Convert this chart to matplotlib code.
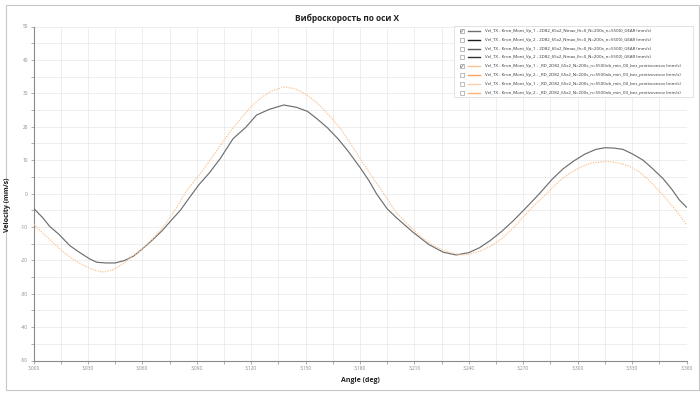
import matplotlib
matplotlib.use("Agg")
import matplotlib.pyplot as plt
from matplotlib.patches import Rectangle
from matplotlib.lines import Line2D
from matplotlib.ticker import MultipleLocator, FuncFormatter

# ---------------- data ----------------
angle_gear = [3000, 3005, 3009, 3014, 3020, 3025, 3031, 3035, 3040, 3045, 3050, 3055,
              3060, 3065, 3071, 3076, 3081, 3086, 3091, 3097, 3103, 3110, 3117, 3123,
              3130, 3138, 3145, 3151, 3156, 3162, 3168, 3173, 3180, 3185, 3189, 3195,
              3200, 3209, 3218, 3226, 3233, 3240, 3246, 3252, 3258, 3265, 3272, 3279,
              3286, 3292, 3298, 3304, 3310, 3315, 3320, 3325, 3330, 3336, 3341, 3347,
              3352, 3356, 3360]
vel_gear = [-4.4, -7.2, -9.9, -12.2, -15.6, -17.5, -19.6, -20.6, -20.8, -20.8, -20.1, -18.8,
            -16.6, -14.2, -11.1, -8.0, -5.0, -1.2, 2.5, 6.2, 10.5, 16.4, 19.8, 23.5,
            25.2, 26.5, 25.8, 24.6, 22.5, 19.7, 16.3, 13.0, 7.8, 3.8, 0.0, -4.6,
            -7.2, -11.5, -15.3, -17.6, -18.4, -17.7, -16.2, -14.0, -11.4, -7.9, -4.0, 0.0,
            4.3, 7.4, 9.8, 11.8, 13.2, 13.7, 13.6, 13.2, 11.9, 10.0, 7.6, 4.5,
            1.2, -1.9, -4.1]

angle_rd = [3000, 3005, 3010, 3016, 3021, 3026, 3031, 3035, 3039, 3044, 3049, 3054,
            3060, 3066, 3072, 3078, 3084, 3092, 3098, 3103, 3109, 3114, 3120, 3125,
            3131, 3138, 3144, 3150, 3156, 3162, 3169, 3175, 3180, 3186, 3193, 3200,
            3207, 3214, 3221, 3228, 3235, 3240, 3246, 3252, 3258, 3264, 3270, 3276,
            3283, 3290, 3296, 3302, 3308, 3316, 3322, 3328, 3334, 3340, 3346, 3351,
            3356, 3360]
vel_rd = [-9.2, -11.8, -14.3, -17.3, -19.4, -21.0, -22.4, -23.2, -23.5, -22.8, -21.2, -19.0,
          -16.6, -13.4, -9.6, -5.0, 0.5, 6.0, 10.5, 14.4, 18.8, 22.3, 26.0, 28.5,
          30.6, 31.9, 31.4, 29.8, 27.3, 24.0, 19.6, 14.8, 10.5, 5.6, 0.0, -5.7,
          -9.6, -13.2, -15.8, -17.4, -18.4, -18.2, -17.3, -15.8, -13.6, -10.6, -7.0, -3.6,
          0.0, 3.8, 6.2, 8.0, 9.2, 9.6, 9.2, 8.3, 6.5, 3.6, 0.2, -3.0,
          -6.3, -9.4]

legend_labels = [
    "Vel_TX - Kron_Mont_Vp_1 - 2D82_65x2_Nmax_(h=0_N=200s_n=5500)_GEAR (mm/s)",
    "Vel_TX - Kron_Mont_Vp_2 - 2D82_65x2_Nmax_(h=0_N=200s_n=5500)_GEAR (mm/s)",
    "Vel_TX - Kron_Mont_Vp_1 - 2D82_65x2_Nmax_(h=0_N=200s_n=5500)_GEAR (mm/s)",
    "Vel_TX - Kron_Mont_Vp_2 - 2D82_65x2_Nmax_(h=0_N=200s_n=5500)_GEAR (mm/s)",
    "Vel_TX - Kron_Mont_Vp_1 - _RD_2D82_65x2_N=200s_n=5500ob_min_00_bez_protivovesov (mm/s)",
    "Vel_TX - Kron_Mont_Vp_2 - _RD_2D82_65x2_N=200s_n=5500ob_min_00_bez_protivovesov (mm/s)",
    "Vel_TX - Kron_Mont_Vp_1 - _RD_2D82_65x2_N=200s_n=5500ob_min_00_bez_protivovesov (mm/s)",
    "Vel_TX - Kron_Mont_Vp_2 - _RD_2D82_65x2_N=200s_n=5500ob_min_00_bez_protivovesov (mm/s)",
]
legend_colors = ["#6e6e6e", "#1e1e1e", "#5a5a5a", "#333333",
                 "#fbc393", "#f5a35e", "#fdcfa6", "#fab27c"]
legend_checked = [True, False, False, False, True, False, False, False]

title = "Виброскорость по оси X"
xlabel = "Angle (deg)"
ylabel = "Velocity (mm/s)"

# ---------------- figure ----------------
W, H = 700, 396
fig = plt.figure(figsize=(7.0, 3.96), dpi=100)
plt.rcParams['font.family'] = ['Open Sans', 'DejaVu Sans']

def fx(px):
    return px / W

def fy(py):
    return 1 - py / H

# outer frame
fig.patches.append(Rectangle((fx(6), fy(390)), fx(699) - fx(6), fy(5) - fy(390),
                             transform=fig.transFigure, fill=False,
                             edgecolor="#c8c8c8", linewidth=0.8))

ax = fig.add_axes([fx(33.5), fy(360.5), fx(686.5) - fx(33.5), fy(26.5) - fy(360.5)])

ax.plot(angle_gear, vel_gear, color=legend_colors[0], linewidth=0.85, zorder=3)
ax.plot(angle_rd, vel_rd, color=legend_colors[4], linewidth=0.9, linestyle=(0, (1.0, 1.0)),
        zorder=3)

ax.set_xlim(3000, 3360)
ax.set_ylim(-50, 50)
ax.xaxis.set_major_locator(MultipleLocator(30))
ax.xaxis.set_minor_locator(MultipleLocator(15))
ax.yaxis.set_major_locator(MultipleLocator(10))
ax.yaxis.set_minor_locator(MultipleLocator(5))
ax.xaxis.set_major_formatter(FuncFormatter(lambda v, p: f"{int(round(v)):,}"))
ax.yaxis.set_major_formatter(FuncFormatter(lambda v, p: f"{int(round(v))}"))

ax.grid(which="both", color="#ebebeb", linewidth=0.6, zorder=0)
ax.set_axisbelow(True)
for s in ["top", "right"]:
    ax.spines[s].set_visible(False)
for s in ["left", "bottom"]:
    ax.spines[s].set_color("#8a8a8a")
    ax.spines[s].set_linewidth(0.8)

ax.tick_params(which="both", labelsize=3.4, labelcolor="#888888", color="#8a8a8a",
               width=0.5, length=2.5, pad=1.5)
ax.tick_params(which="minor", length=2.5)

fig.text(fx(360), fy(381), xlabel, ha="center", va="center", fontsize=5,
         fontweight="bold", color="#222222")
fig.text(fx(8), fy(205), ylabel, ha="center", va="center", fontsize=5,
         fontweight="bold", rotation=90, color="#222222")
fig.text(fx(347), fy(18), title, ha="center", va="center", fontsize=6,
         fontweight="bold", color="#222222")

# ---------------- legend (interactive-style with checkboxes) ----------------
lx0, lx1, ly0, ly1 = 454, 693, 26, 97
fig.patches.append(Rectangle((fx(lx0), fy(ly1)), fx(lx1) - fx(lx0), fy(ly0) - fy(ly1),
                             transform=fig.transFigure, facecolor="white",
                             edgecolor="#dddddd", linewidth=0.6, zorder=5))
row0, drow = 31, 8.8
for i, (lab, col, chk) in enumerate(zip(legend_labels, legend_colors, legend_checked)):
    yy = row0 + i * drow
    fig.patches.append(Rectangle((fx(459.5), fy(yy + 2)), fx(4), 4 / H,
                                 transform=fig.transFigure, facecolor="white",
                                 edgecolor="#a0a0a0", linewidth=0.5, zorder=6))
    if chk:
        fig.lines.append(Line2D([fx(460.3), fx(461.3), fx(463.2)],
                                [fy(yy), fy(yy + 1.3), fy(yy - 1.3)],
                                transform=fig.transFigure, color="#777777",
                                linewidth=0.5, zorder=7))
    fig.lines.append(Line2D([fx(468), fx(480)], [fy(yy), fy(yy)],
                            transform=fig.transFigure, color=col, linewidth=1.0, zorder=6))
    fig.text(fx(485), fy(yy), lab, ha="left", va="center", fontsize=3.2,
             color="#333333", zorder=7)

fig.savefig("out.png", dpi=100)
